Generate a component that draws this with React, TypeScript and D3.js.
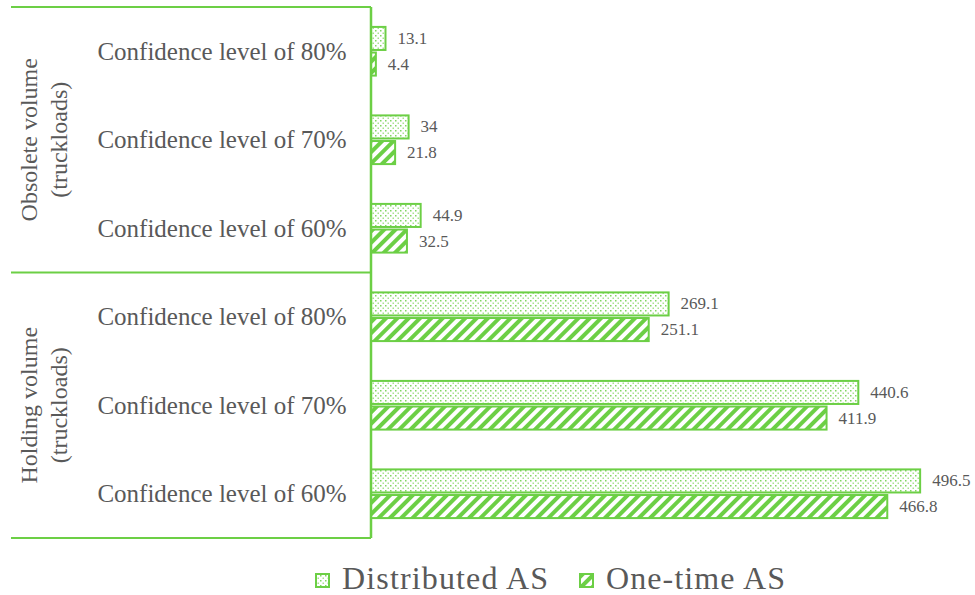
import React from "react";
import * as d3 from "d3";

const categories = [
  "Confidence level of 80%",
  "Confidence level of 70%",
  "Confidence level of 60%",
  "Confidence level of 80%",
  "Confidence level of 70%",
  "Confidence level of 60%",
];
const groups = [
  { lines: ["Obsolete volume", "(truckloads)"], start: 0, end: 3 },
  { lines: ["Holding volume", "(truckloads)"], start: 3, end: 6 },
];
const distributed = [13.1, 34, 44.9, 269.1, 440.6, 496.5];
const oneTime = [4.4, 21.8, 32.5, 251.1, 411.9, 466.8];
const seriesNames = ["Distributed AS", "One-time AS"];

const W = 975;
const H = 595;
const GREEN = "#6ccf45";
const TEXT = "#595959";
const FONT = "'Liberation Serif', 'DejaVu Serif', serif";

export default function App() {
  const left = 371;
  const top = 7;
  const bottom = 538;
  const x = d3.scaleLinear().domain([0, 500]).range([left, left + 553]);
  const y = d3
    .scaleBand<number>()
    .domain(d3.range(categories.length))
    .range([top, bottom])
    .paddingInner(0.45)
    .paddingOuter(0.225);
  const inner = d3.scaleBand<number>().domain([0, 1]).range([0, y.bandwidth()]).paddingInner(0.1);
  const series = [distributed, oneTime];
  const fills = ["url(#dots)", "url(#stripes)"];
  const bandStep = y.step();

  return (
    <svg width={W} height={H} style={{ position: "absolute", left: 0, top: 0 }}>
      <defs>
        <pattern id="dots" width={5} height={5} patternUnits="userSpaceOnUse">
          <rect width={5} height={5} fill="#fff" />
          <rect x={0} y={0} width={1.5} height={1.5} fill={GREEN} opacity={0.85} />
          <rect x={2.5} y={2.5} width={1.5} height={1.5} fill={GREEN} opacity={0.6} />
        </pattern>
        <pattern
          id="stripes"
          width={8}
          height={8}
          patternUnits="userSpaceOnUse"
          patternTransform="rotate(45)"
        >
          <rect width={8} height={8} fill="#fff" />
          <rect x={0} y={0} width={4} height={8} fill={GREEN} />
        </pattern>
      </defs>

      {/* category labels */}
      {categories.map((c, i) => (
        <text
          key={"c" + i}
          x={222}
          y={(y(i) as number) + y.bandwidth() / 2}
          textAnchor="middle"
          dominantBaseline="central"
          fontFamily={FONT}
          fontSize={25}
          fill={TEXT}
        >
          {c}
        </text>
      ))}

      {/* group labels */}
      {groups.map((g, gi) => {
        const yc = top + (bandStep * (g.start + g.end)) / 2;
        return g.lines.map((l, li) => (
          <text
            key={`g${gi}-${li}`}
            transform={`translate(${[37, 67][li]},${yc}) rotate(-90)`}
            textAnchor="middle"
            fontFamily={FONT}
            fontSize={24}
            fill={TEXT}
          >
            {l}
          </text>
        ));
      })}

      {/* separators */}
      {[0, 3, 6].map((k) => (
        <line
          key={"s" + k}
          x1={11}
          x2={left}
          y1={top + bandStep * k}
          y2={top + bandStep * k}
          stroke={GREEN}
          strokeWidth={2}
        />
      ))}

      {/* bars */}
      {series.map((vals, si) =>
        vals.map((v, i) => {
          const by = (y(i) as number) + (inner(si) as number);
          const bh = inner.bandwidth();
          return (
            <g key={`b${si}-${i}`}>
              <rect
                x={x(0)}
                y={by}
                width={x(v) - x(0)}
                height={bh}
                fill={fills[si]}
                stroke={GREEN}
                strokeWidth={2}
              />
              <text
                x={x(v) + 12}
                y={by + bh / 2}
                dominantBaseline="central"
                fontFamily={FONT}
                fontSize={17}
                fill={TEXT}
              >
                {String(v)}
              </text>
            </g>
          );
        })
      )}

      {/* axis line */}
      <line x1={left} x2={left} y1={top} y2={bottom} stroke={GREEN} strokeWidth={2.5} />

      {/* legend */}
      {seriesNames.map((n, i) => {
        const lx = [316, 580][i];
        return (
          <g key={"l" + i}>
            <rect x={lx} y={574} width={13} height={13} fill={fills[i]} stroke={GREEN} strokeWidth={2} />
            <text
              x={lx + 26}
              y={589}
              fontFamily={FONT}
              fontSize={32}
              textLength={[206, 179][i]}
              lengthAdjust="spacing"
              fill={TEXT}
            >
              {n}
            </text>
          </g>
        );
      })}
    </svg>
  );
}
